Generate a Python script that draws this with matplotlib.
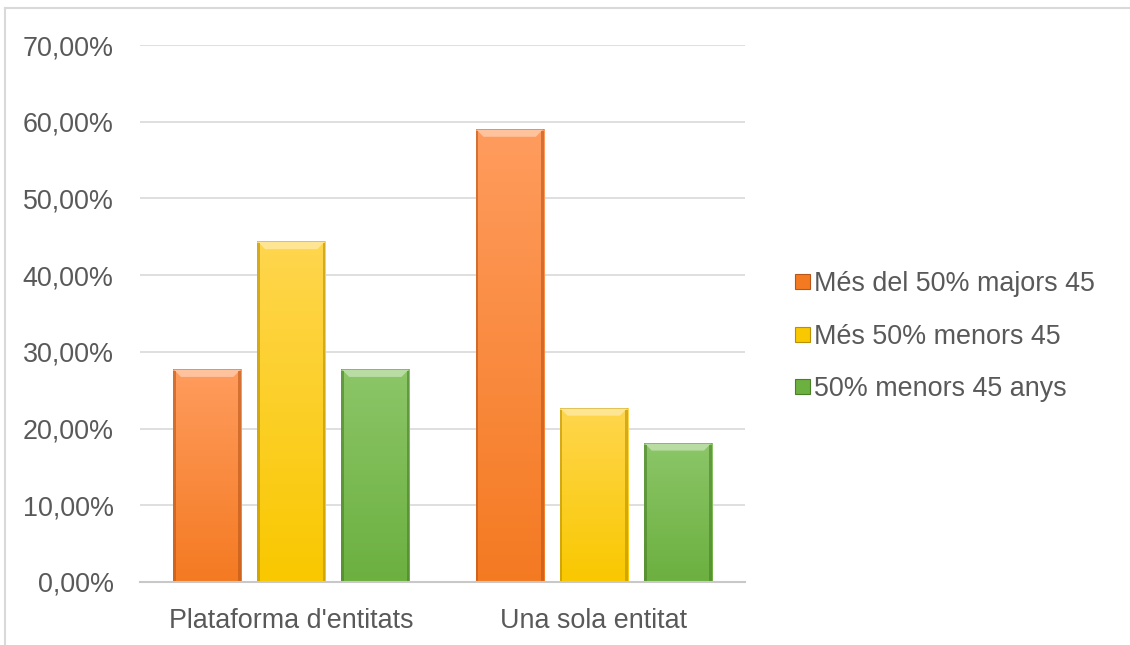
import numpy as np
import matplotlib
matplotlib.use('Agg')
import matplotlib.pyplot as plt
from matplotlib.colors import LinearSegmentedColormap
from matplotlib.patches import Polygon, Rectangle
from matplotlib.ticker import FuncFormatter

# --- Data ---
categories = ["Plataforma d'entitats", "Una sola entitat"]
series_names = ["Més del 50% majors 45", "Més 50% menors 45", "50% menors 45 anys"]
majors_45 = [27.78, 59.09]
menors_45 = [44.44, 22.73]
menors_45_anys = [27.78, 18.18]
series_values = [majors_45, menors_45, menors_45_anys]

# (light top, base, dark edge)
palette = [
    ('#ff9c5e', '#f47a22', '#b8561a'),
    ('#ffd64e', '#f9c800', '#b99000'),
    ('#8cc668', '#6cb040', '#4a7f2a'),
]

TEXT = '#595959'
FS = 19.4
plt.rcParams['font.family'] = ['Liberation Sans', 'DejaVu Sans']

fig = plt.figure(figsize=(11.3, 6.45), dpi=100)
ax = fig.add_axes([0.1239, 0.0977, 0.5354, 0.8325])

x = np.arange(len(categories))
width = 0.225
step = 0.278

def bevel_bar(ax, patch, colors):
    light, base, dark = colors
    x0, y0 = patch.get_x(), patch.get_y()
    w, h = patch.get_width(), patch.get_height()
    cmap = LinearSegmentedColormap.from_list('g', [base, light])
    grad = np.linspace(0, 1, 256).reshape(-1, 1)
    im = ax.imshow(grad, cmap=cmap, aspect='auto', origin='lower',
                   extent=(x0, x0 + w, y0, y0 + h), zorder=3,
                   interpolation='bilinear')
    im.set_clip_path(patch)
    patch.set_facecolor('none')
    # bevel: light top strip, dark sides
    bx = 0.026
    by = 1.05
    top = Polygon([(x0, y0 + h), (x0 + w, y0 + h), (x0 + w - bx, y0 + h - by),
                   (x0 + bx, y0 + h - by)], closed=True,
                  facecolor='white', alpha=0.4, edgecolor='none', zorder=4)
    ax.add_patch(top)
    for xs in (x0, x0 + w - 0.009):
        ax.add_patch(Rectangle((xs, y0), 0.009, h - 0.3, facecolor=dark,
                               alpha=0.6, edgecolor='none', zorder=4))
    ax.add_patch(Rectangle((x0, y0 + h - 0.15), w, 0.15, facecolor=dark,
                           alpha=0.4, edgecolor='none', zorder=4))

for i, (vals, cols) in enumerate(zip(series_values, palette)):
    bars = ax.bar(x + (i - 1) * step, vals, width, color=cols[1],
                  label=series_names[i], zorder=3, linewidth=0)
    for b in bars:
        bevel_bar(ax, b, cols)

ax.set_xlim(-0.5, 1.5)
ax.set_ylim(0, 70)
ax.set_yticks(np.arange(0, 71, 10))
ax.yaxis.set_major_formatter(FuncFormatter(lambda v, _: f'{v:.2f}%'.replace('.', ',')))
ax.set_xticks(x)
ax.set_xticklabels(categories)

ax.grid(axis='y', color='#d9d9d9', linewidth=1.2, zorder=0)
for s in ['top', 'right', 'left']:
    ax.spines[s].set_visible(False)
ax.spines['bottom'].set_color('#c8c8c8')
ax.spines['bottom'].set_linewidth(1.5)
ax.spines['bottom'].set_zorder(5)
ax.tick_params(axis='both', length=0, labelsize=FS, colors=TEXT)
ax.tick_params(axis='y', pad=19)
ax.tick_params(axis='x', pad=19)

handles = [Rectangle((0, 0), 1, 1, facecolor=c[1], edgecolor=c[2], linewidth=0.8)
           for c in palette]
fig.legend(handles, series_names, loc='center left', bbox_to_anchor=(0.682, 0.478),
           frameon=False, fontsize=FS, labelcolor=TEXT, handlelength=0.55,
           handleheight=0.48, handletextpad=0.15, labelspacing=0.98)

# chart frame
fig.add_artist(plt.Line2D([0.0044, 0.0044], [0, 0.988], color='#d9d9d9',
                          linewidth=1.5, transform=fig.transFigure))
fig.add_artist(plt.Line2D([0.0044, 1.0], [0.988, 0.988], color='#d9d9d9',
                          linewidth=1.5, transform=fig.transFigure))

fig.savefig('out.png', dpi=100)
